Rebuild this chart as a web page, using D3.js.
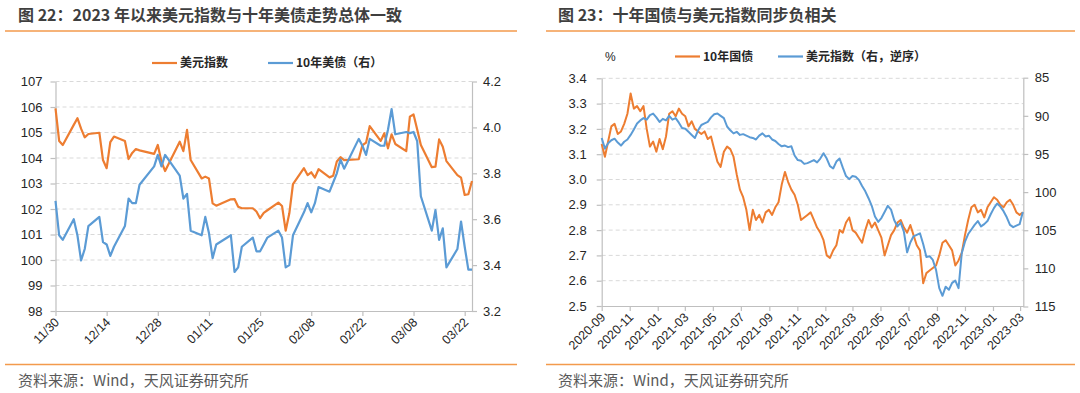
<!DOCTYPE html>
<html><head><meta charset="utf-8">
<script src="https://cdn.jsdelivr.net/npm/d3@7"></script>
<style>
html,body{margin:0;padding:0;background:#fff;}
svg{display:block;}
text{font-family:"Liberation Sans",Arial,"Noto Sans CJK SC",sans-serif;}
</style></head><body>
<svg id="c" width="1080" height="393"></svg>
<script>
// ---------- Left chart data (daily, 2022-11-30 .. 2023-03-24) ----------
const usDates = ["2022-11-30",
"2022-12-01","2022-12-02","2022-12-05","2022-12-06","2022-12-07","2022-12-08","2022-12-09","2022-12-12","2022-12-13","2022-12-14","2022-12-15","2022-12-16","2022-12-19","2022-12-20","2022-12-21","2022-12-22","2022-12-23","2022-12-27","2022-12-28","2022-12-29","2022-12-30",
"2023-01-03","2023-01-04","2023-01-05","2023-01-06","2023-01-09","2023-01-10","2023-01-11","2023-01-12","2023-01-13","2023-01-17","2023-01-18","2023-01-19","2023-01-20","2023-01-23","2023-01-24","2023-01-25","2023-01-26","2023-01-27","2023-01-30","2023-01-31",
"2023-02-01","2023-02-02","2023-02-03","2023-02-06","2023-02-07","2023-02-08","2023-02-09","2023-02-10","2023-02-13","2023-02-14","2023-02-15","2023-02-16","2023-02-17","2023-02-21","2023-02-22","2023-02-23","2023-02-24","2023-02-27","2023-02-28",
"2023-03-01","2023-03-02","2023-03-03","2023-03-06","2023-03-07","2023-03-08","2023-03-09","2023-03-10","2023-03-13","2023-03-14","2023-03-15","2023-03-16","2023-03-17","2023-03-20","2023-03-21","2023-03-22","2023-03-23","2023-03-24"];
const dxyDaily = [105.95,
104.67,104.51,105.30,105.56,105.15,104.81,104.94,104.99,103.92,103.60,104.62,104.84,104.67,103.96,104.20,104.35,104.30,104.16,104.51,103.86,103.49,
104.64,104.27,105.10,103.92,103.20,103.27,103.20,102.22,102.13,102.38,102.39,102.09,102.03,102.03,101.90,101.64,101.85,101.95,102.25,102.12,
101.15,101.83,102.98,103.60,103.33,103.44,103.23,103.56,103.24,103.30,103.86,104.03,103.92,103.95,104.50,104.60,105.25,104.67,104.97,
104.38,104.93,104.55,104.27,105.62,105.71,105.12,104.51,103.64,103.66,104.73,104.44,103.88,103.33,103.23,102.55,102.58,103.10];
const ust10yDaily = [3.68,
3.53,3.51,3.60,3.53,3.42,3.47,3.57,3.61,3.50,3.49,3.44,3.48,3.57,3.69,3.67,3.67,3.75,3.83,3.88,3.83,3.88,
3.79,3.69,3.71,3.55,3.53,3.61,3.54,3.43,3.49,3.53,3.37,3.39,3.48,3.52,3.46,3.46,3.49,3.52,3.55,3.52,
3.39,3.40,3.53,3.63,3.67,3.63,3.67,3.74,3.72,3.76,3.80,3.86,3.82,3.95,3.92,3.88,3.95,3.92,3.92,
3.99,4.08,3.97,3.98,3.975,3.98,3.94,3.70,3.55,3.64,3.51,3.56,3.39,3.47,3.59,3.48,3.38,3.38];
const leftXTicks = ["2022-11-30","2022-12-14","2022-12-28","2023-01-11","2023-01-25","2023-02-08","2023-02-22","2023-03-08","2023-03-22"];
const leftYTicks = [98,99,100,101,102,103,104,105,106,107];
const leftY2Ticks = [3.2,3.4,3.6,3.8,4.0,4.2];

// ---------- Right chart data (weekly, 2020-09 .. 2023-03) ----------
const weekDates = [
"2020-09-01","2020-09-08","2020-09-15","2020-09-22","2020-09-29","2020-10-06","2020-10-13","2020-10-20","2020-10-27","2020-11-03",
"2020-11-10","2020-11-17","2020-11-24","2020-12-01","2020-12-08","2020-12-15","2020-12-22","2020-12-29","2021-01-05","2021-01-12",
"2021-01-19","2021-01-26","2021-02-02","2021-02-09","2021-02-16","2021-02-23","2021-03-02","2021-03-09","2021-03-16","2021-03-23",
"2021-03-30","2021-04-06","2021-04-13","2021-04-20","2021-04-27","2021-05-04","2021-05-11","2021-05-18","2021-05-25","2021-06-01",
"2021-06-08","2021-06-15","2021-06-22","2021-06-29","2021-07-06","2021-07-13","2021-07-20","2021-07-27","2021-08-03","2021-08-10",
"2021-08-17","2021-08-24","2021-08-31","2021-09-07","2021-09-14","2021-09-21","2021-09-28","2021-10-05","2021-10-12","2021-10-19",
"2021-10-26","2021-11-02","2021-11-09","2021-11-16","2021-11-23","2021-11-30","2021-12-07","2021-12-14","2021-12-21","2021-12-28",
"2022-01-04","2022-01-11","2022-01-18","2022-01-25","2022-02-01","2022-02-08","2022-02-15","2022-02-22","2022-03-01","2022-03-08",
"2022-03-15","2022-03-22","2022-03-29","2022-04-05","2022-04-12","2022-04-19","2022-04-26","2022-05-03","2022-05-10","2022-05-17",
"2022-05-24","2022-05-31","2022-06-07","2022-06-14","2022-06-21","2022-06-28","2022-07-05","2022-07-12","2022-07-19","2022-07-26",
"2022-08-02","2022-08-09","2022-08-16","2022-08-23","2022-08-30","2022-09-06","2022-09-13","2022-09-20","2022-09-27","2022-10-04",
"2022-10-11","2022-10-18","2022-10-25","2022-11-01","2022-11-08","2022-11-15","2022-11-22","2022-11-29","2022-12-06","2022-12-13",
"2022-12-20","2022-12-27","2023-01-03","2023-01-10","2023-01-17","2023-01-24","2023-01-31","2023-02-07","2023-02-14","2023-02-21",
"2023-02-28","2023-03-07"];
const cn10yWeekly = [
3.14,3.09,3.15,3.21,3.22,3.18,3.19,3.22,3.26,3.34,
3.28,3.29,3.27,3.29,3.20,3.13,3.15,3.11,3.16,3.12,
3.17,3.26,3.27,3.25,3.28,3.26,3.25,3.21,3.23,3.20,
3.19,3.18,3.19,3.16,3.17,3.12,3.07,3.05,3.11,3.13,
3.12,3.09,3.02,2.96,2.93,2.88,2.80,2.88,2.84,2.86,
2.83,2.87,2.88,2.86,2.89,2.91,2.98,3.03,2.99,2.96,
2.94,2.90,2.84,2.85,2.86,2.87,2.84,2.81,2.79,2.76,
2.70,2.69,2.72,2.74,2.80,2.79,2.83,2.85,2.80,2.79,
2.77,2.75,2.80,2.84,2.81,2.83,2.80,2.77,2.70,2.74,
2.78,2.80,2.83,2.84,2.81,2.79,2.82,2.78,2.74,2.72,
2.59,2.63,2.64,2.65,2.66,2.70,2.75,2.76,2.74,2.72,
2.66,2.68,2.71,2.78,2.84,2.89,2.90,2.87,2.88,2.85,
2.89,2.91,2.93,2.92,2.90,2.89,2.91,2.92,2.90,2.87,
2.86,2.87];
const dxyWeekly = [
92.9,94.3,93.6,93.2,93.0,93.5,93.9,93.4,93.1,92.5,
91.8,91.0,90.6,90.3,90.5,89.9,89.7,90.2,90.8,90.4,
90.6,90.0,90.5,90.3,90.9,91.6,91.7,92.1,92.5,92.9,
91.9,91.2,91.0,90.8,90.2,89.8,89.7,90.0,90.3,91.4,
91.9,92.3,92.1,92.5,92.4,92.6,92.8,92.9,93.1,92.6,
92.3,92.7,92.6,93.1,93.3,93.7,94.0,93.9,94.1,94.0,
95.2,95.8,95.9,96.3,96.2,96.0,95.8,96.1,95.6,94.9,
95.6,96.6,96.9,96.0,95.6,96.8,97.9,98.3,97.9,98.0,
98.4,99.2,99.9,100.8,101.8,103.2,103.9,103.4,102.6,101.8,
102.3,103.7,104.5,104.0,105.2,107.9,106.6,105.8,105.6,105.4,
106.8,108.5,108.4,108.9,110.2,112.6,113.6,112.4,112.8,111.9,
111.6,112.6,108.0,106.5,105.5,104.9,104.3,103.8,104.5,104.2,
103.8,102.9,102.1,101.5,101.9,102.5,103.3,104.3,104.6,104.4,
104.2,102.6];
const rightXTicks = ["2020-09-01","2020-11-01","2021-01-01","2021-03-01","2021-05-01","2021-07-01","2021-09-01","2021-11-01","2022-01-01","2022-03-01","2022-05-01","2022-07-01","2022-09-01","2022-11-01","2023-01-01","2023-03-01"];
const rightYTicks = [2.5,2.6,2.7,2.8,2.9,3.0,3.1,3.2,3.3,3.4];
const rightY2Ticks = [85,90,95,100,105,110,115];

// ---------- drawing ----------
const ORANGE = "#ED7D31", BLUE = "#5B9BD5", RULE = "#F39A4C", AXIS = "#BFBFBF", GRID = "#D9D9D9", TXT = "#404040";
const CJK = '"Noto Sans CJK SC","Liberation Sans",sans-serif';
const parse = d3.timeParse("%Y-%m-%d");
const svg = d3.select("#c");

function rules(x0, x1) {
  svg.append("line").attr("x1", x0).attr("x2", x1).attr("y1", 31).attr("y2", 31).attr("stroke", RULE).attr("stroke-width", 1.6);
  svg.append("line").attr("x1", x0).attr("x2", x1).attr("y1", 364.5).attr("y2", 364.5).attr("stroke", RULE).attr("stroke-width", 1.6);
}
function title(x, t) {
  svg.append("text").attr("x", x).attr("y", 21).text(t)
    .style("font-family", CJK).style("font-size", "16px").style("font-weight", 700).attr("fill", "#3f3f3f");
}
function footer(x) {
  svg.append("text").attr("x", x).attr("y", 386).text("资料来源：Wind，天风证券研究所")
    .style("font-family", CJK).style("font-size", "15px").attr("fill", "#595959");
}
function legendItem(x, y, color, label) {
  svg.append("line").attr("x1", x).attr("x2", x + 25).attr("y1", y).attr("y2", y).attr("stroke", color).attr("stroke-width", 2.2);
  svg.append("text").attr("x", x + 28).attr("y", y + 4.3).text(label)
    .style("font-family", CJK).style("font-size", "12px").style("font-weight", 700).attr("fill", "#262626");
}
function styleAxis(g) {
  g.select(".domain").attr("stroke", AXIS).attr("stroke-width", 1.2);
  g.selectAll(".tick line").attr("stroke", AXIS).attr("stroke-width", 1.2);
  g.selectAll(".tick text").attr("fill", "#262626").style("font-size", "13px").style("font-family", '"Liberation Sans",Arial,sans-serif');
}

function drawPanel(cfg) {
  const {x, yL, yR, dates, s1, s2, yTicksL, yTicksR, xTicks, fmtL, fmtR, fmtX, lw} = cfg;
  const [x0, x1] = x.range();
  const [yb, yt] = yL.range();
  // grid
  svg.append("g").selectAll("line").data(yTicksL.slice(1)).join("line")
    .attr("x1", x0).attr("x2", x1).attr("y1", d => yL(d)).attr("y2", d => yL(d))
    .attr("stroke", GRID).attr("stroke-width", 1).attr("stroke-dasharray", "4,3");
  // axes
  const gl = svg.append("g").attr("transform", `translate(${x0},0)`)
    .call(d3.axisLeft(yL).tickValues(yTicksL).tickFormat(fmtL).tickSize(5).tickPadding(cfg.padL).tickSizeOuter(0));
  styleAxis(gl);
  const gr = svg.append("g").attr("transform", `translate(${x1},0)`)
    .call(d3.axisRight(yR).tickValues(yTicksR).tickFormat(fmtR).tickSize(5).tickPadding(cfg.padR).tickSizeOuter(0));
  styleAxis(gr);
  const gx = svg.append("g").attr("transform", `translate(0,${yb})`)
    .call(d3.axisBottom(x).tickValues(xTicks.map(parse)).tickFormat(fmtX).tickSize(5).tickSizeOuter(0));
  styleAxis(gx);
  gx.selectAll(".tick text").attr("text-anchor", "end").attr("dy", null).attr("y", null)
    .attr("transform", "translate(4,12) rotate(-45)").style("font-size", "12.5px");
  // lines
  const pts = dates.map(parse);
  const l1 = d3.line().x((d, i) => x(pts[i])).y(d => yL(d));
  const l2 = d3.line().x((d, i) => x(pts[i])).y(d => yR(d));
  svg.append("path").datum(s1).attr("d", l1).attr("fill", "none").attr("stroke", ORANGE).attr("stroke-width", lw).attr("stroke-linejoin", "round");
  svg.append("path").datum(s2).attr("d", l2).attr("fill", "none").attr("stroke", BLUE).attr("stroke-width", lw).attr("stroke-linejoin", "round");
}

// Left panel
rules(5, 517);
title(18, "图 22：2023 年以来美元指数与十年美债走势总体一致");
footer(18);
legendItem(152, 63, ORANGE, "美元指数");
legendItem(268, 63, BLUE, "10年美债（右）");
const xLeft = d3.scaleTime().domain([parse("2022-11-30"), parse("2023-03-24")]).range([55.5, 472]);
drawPanel({
  x: xLeft,
  yL: d3.scaleLinear().domain([98, 107]).range([311, 81.5]),
  yR: d3.scaleLinear().domain([3.2, 4.2]).range([311, 81.5]),
  dates: usDates, s1: dxyDaily, s2: ust10yDaily,
  yTicksL: leftYTicks, yTicksR: leftY2Ticks, xTicks: leftXTicks,
  fmtL: d3.format("d"), fmtR: d3.format(".1f"), fmtX: d3.timeFormat("%m/%d"),
  padL: 8, padR: 6, lw: 2.2
});

// Right panel
rules(546, 1075);
title(558, "图 23：十年国债与美元指数同步负相关");
footer(558);
svg.append("text").attr("x", 605).attr("y", 61).text("%").style("font-size", "12px").attr("fill", "#262626");
legendItem(675, 56.5, ORANGE, "10年国债");
legendItem(778, 56.5, BLUE, "美元指数（右，逆序）");
const xRight = d3.scaleTime().domain([parse("2020-09-01"), parse("2023-03-08")]).range([601.7, 1023.3]);
drawPanel({
  x: xRight,
  yL: d3.scaleLinear().domain([2.5, 3.4]).range([306, 78.3]),
  yR: d3.scaleLinear().domain([85, 115]).range([77.7, 306.5]),
  dates: weekDates, s1: cn10yWeekly, s2: dxyWeekly,
  yTicksL: rightYTicks, yTicksR: rightY2Ticks, xTicks: rightXTicks,
  fmtL: d3.format(".1f"), fmtR: d3.format("d"), fmtX: d3.timeFormat("%Y-%m"),
  padL: 10, padR: 6.5, lw: 2
});
</script>
</body></html>
